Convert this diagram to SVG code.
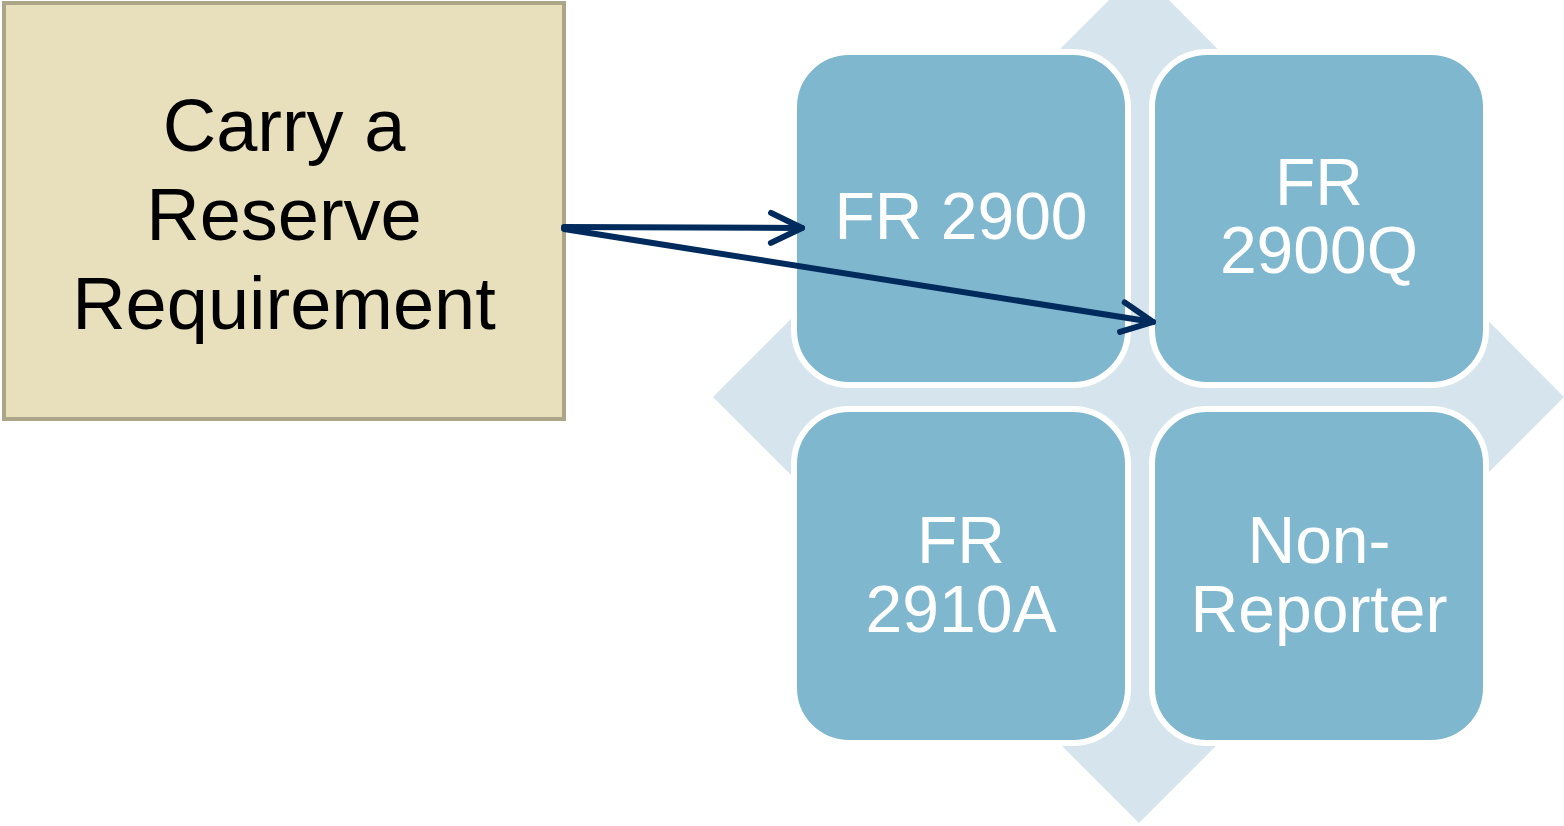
<svg xmlns="http://www.w3.org/2000/svg" width="1564" height="826" viewBox="0 0 1564 826">
  <style>
    .tile { fill: #7FB7CF; stroke: #FFFFFF; stroke-width: 6; }
    .tile-text { font-family: "Liberation Sans", Arial, sans-serif; font-size: 66px; fill: #FFFFFF; text-anchor: middle; }
    .src-text { font-family: "Liberation Sans", Arial, sans-serif; font-size: 74px; fill: #000000; text-anchor: middle; }
    .link { fill: none; stroke: #002B5C; stroke-width: 6; stroke-linecap: round; }
  </style>
  <defs>
    <marker id="open-arrow" markerUnits="userSpaceOnUse" viewBox="-40 -24 46 48" refX="0" refY="0" markerWidth="46" markerHeight="48" orient="auto">
      <path d="M -31 -15 L 0 0 L -31 15" fill="none" stroke="#002B5C" stroke-width="6" stroke-linecap="round" stroke-linejoin="round"/>
    </marker>
  </defs>

  <!-- background diamond behind the matrix -->
  <g id="matrix-backdrop">
    <polygon points="1139,-30 1564,397 1139,823 713,397" fill="#D6E5ED"/>
  </g>

  <!-- source box -->
  <g id="carry-reserve">
    <rect x="4" y="3" width="560" height="416" fill="#E8DFBD" stroke="#ACA587" stroke-width="4"/>
    <text class="src-text" x="284" y="151">Carry a</text>
    <text class="src-text" x="284" y="240">Reserve</text>
    <text class="src-text" x="284" y="329">Requirement</text>
  </g>

  <!-- matrix tiles -->
  <g id="fr2900">
    <rect class="tile" x="794" y="52" width="334" height="333" rx="55"/>
    <text class="tile-text" x="961" y="239">FR 2900</text>
  </g>
  <g id="fr2900q">
    <rect class="tile" x="1152" y="52" width="334" height="333" rx="55"/>
    <text class="tile-text" x="1319" y="205">FR</text>
    <text class="tile-text" x="1319" y="273">2900Q</text>
  </g>
  <g id="fr2910a">
    <rect class="tile" x="794" y="409" width="334" height="334" rx="55"/>
    <text class="tile-text" x="961" y="563">FR</text>
    <text class="tile-text" x="961" y="632">2910A</text>
  </g>
  <g id="non-reporter">
    <rect class="tile" x="1152" y="409" width="334" height="334" rx="55"/>
    <text class="tile-text" x="1319" y="563">Non-</text>
    <text class="tile-text" x="1319" y="632">Reporter</text>
  </g>

  <!-- connectors -->
  <g id="connectors">
    <line class="link" x1="564" y1="227" x2="802" y2="228" marker-end="url(#open-arrow)"/>
    <line class="link" x1="564" y1="229" x2="1153" y2="322" marker-end="url(#open-arrow)"/>
  </g>
</svg>
